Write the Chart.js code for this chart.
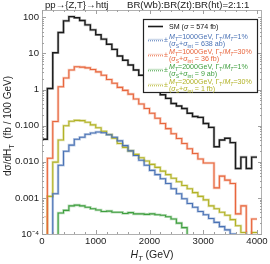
<!DOCTYPE html>
<html><head><meta charset="utf-8">
<script src="https://cdn.jsdelivr.net/npm/chart.js@4.4.1/dist/chart.umd.min.js"></script>
<style>html,body{margin:0;padding:0;background:#fff;}#wrap{width:270px;height:264px;position:relative;}</style>
</head><body><div id="wrap"><canvas id="c" width="270" height="264"></canvas></div>
<script>
// ---- data (fb / 100 GeV), bins of 100 GeV starting at binStart ----
const binStart = [0,100,200,300,400,500,600,700,800,900,1000,1100,1200,1300,1400,1500,1600,1700,1800,1900,
                  2000,2100,2200,2300,2400,2500,2600,2700,2800,2900,3000,3100,3200,3300,3400,3500,3600,3700,3800,3900];
const binEnd = 4000;
const smVals = [0.042,1.07,10.5,38,80,105,98,82,62,45,33,25,18,13,8.5,6.5,4.8,3.5,2.5,1.7,
                1.2,0.9,0.72,0.57,0.41,0.35,0.30,0.22,0.18,0.17,0.115,0.09,0.026,0.04,0.045,0.034,0.0065,0.0135,0.0065,0.0135];
const m1000w1 = [1e-6,1e-6,0.0013,0.008,0.0195,0.029,0.042,0.048,0.058,0.063,0.067,0.064,0.056,0.048,0.038,0.028,0.02,0.015,0.011,0.008,
                 0.0058,0.0044,0.0034,0.0025,0.0018,0.0013,0.00095,0.0007,0.00055,0.00042,0.00034,0.00027,0.00021,0.00016,0.00013,0.0001,0.00008,0.00006,0.00005,0.00005];
const m1000w30 = [1e-6,0.0125,0.13,1.2,2.1,3.5,4.3,4.2,4.0,3.6,3.1,2.5,1.9,1.5,1.15,0.95,0.75,0.55,0.4,0.3,
                  0.22,0.16,0.115,0.083,0.06,0.044,0.032,0.023,0.017,0.012,0.0093,0.0093,0.0019,0.004,0.0031,0.0025,0.00036,0.0006,0.00005,0.00026];
const m1000w30Neg = [0.0003]; // |negative| value of first bin, drawn dotted
const m2000w1 = [1e-6,1e-6,1e-6,0.00038,0.00045,0.0006,0.00063,0.0006,0.00055,0.0005,0.00046,0.00042,0.00043,0.0004,0.0004,0.00037,0.00039,0.00036,0.00036,0.00035,
                 0.00036,0.00034,0.00033,0.0003,0.00026,0.0002,0.00015,0.00008,0.00005,0.00005,0.00005,0.00005,0.00005,0.00005,0.00005,0.00005,0.00005,0.00005,0.00005,0.00005];
const m2000w30 = [1e-6,0.0011,0.0098,0.04,0.1,0.133,0.14,0.138,0.125,0.105,0.088,0.07,0.057,0.045,0.032,0.025,0.02,0.016,0.013,0.0105,
                  0.0085,0.007,0.0055,0.0044,0.0035,0.0028,0.0022,0.0018,0.0014,0.0011,0.00088,0.0006,0.0005,0.0004,0.00033,0.00025,0.00017,0.00011,0.00005,0.00011];
const xTickVals = [0,1000,2000,3000,4000];
const xMinorVals = [200,400,600,800,1200,1400,1600,1800,2200,2400,2600,2800,3200,3400,3600,3800];
const yTickVals = [0.0001,0.001,0.01,0.1,1,10,100];
const yTickLabels = ['10\u207B\u2074','0.001','0.010','0.100','1','10','100'];
const xMax = 4093, yMin = 0.0001, yMax = 160;

const C = {sm:'#1a1a1a', blue:'#4a72b5', orange:'#e8663d', green:'#3f9f3f', olive:'#b2b226'};
const HALO = {sm:'rgba(0,0,0,0.25)', blue:'rgba(74,114,181,0.35)', orange:'rgba(232,102,61,0.35)', green:'rgba(63,159,63,0.35)', olive:'rgba(178,178,38,0.35)'};
const FONT = '"Liberation Sans", Arial, sans-serif';

function steps(vals){ const p = binStart.map((x,i)=>({x:x, y:vals[i]})); p.push({x:binEnd, y:vals[vals.length-1]}); return p; }
function line(vals, col, w, order, dash){ return {data:steps(vals), borderColor:col, borderWidth:w, pointRadius:0, stepped:'before', fill:false, order:order, borderDash:dash||[], tension:0}; }

const datasets = [
  line(smVals, C.sm, 1.4, 0),
  line(m1000w1, C.blue, 1.1, 1),
  line(m1000w30, C.orange, 1.1, 1),
  line(m2000w1, C.green, 1.1, 1),
  line(m2000w30, C.olive, 1.1, 1),
  {data:[{x:binStart[0],y:m1000w30Neg[0]},{x:binStart[1],y:m1000w30Neg[0]}], borderColor:C.orange, borderWidth:1, pointRadius:0, borderDash:[1,1.5], order:1},
  line(smVals, HALO.sm, 2.6, 5),
  line(m1000w1, HALO.blue, 2.6, 5),
  line(m1000w30, HALO.orange, 2.6, 5),
  line(m2000w1, HALO.green, 2.6, 5),
  line(m2000w30, HALO.olive, 2.6, 5)
];

function drawRich(ctx, x, y, segs, size, color){
  ctx.fillStyle = color; ctx.textBaseline = 'alphabetic'; ctx.textAlign='left';
  let cx = x;
  for (const [t, st] of segs){
    const it = st.indexOf('i')>=0, sub = st.indexOf('s')>=0;
    const fs = sub ? size*0.72 : size;
    ctx.font = (it?'italic ':'') + fs + 'px ' + FONT;
    ctx.fillText(t, cx, y + (sub ? size*0.28 : 0));
    cx += ctx.measureText(t).width;
  }
  return cx - x;
}
function richWidth(ctx, segs, size){
  let w=0; for (const [t,st] of segs){ const it=st.indexOf('i')>=0, sub=st.indexOf('s')>=0; ctx.font=(it?'italic ':'')+(sub?size*0.72:size)+'px '+FONT; w+=ctx.measureText(t).width; } return w;
}

const legendEntries = [
  {col:C.blue, halo:HALO.blue, l1:[['M','i'],['T','is'],['=1000GeV, \u0393','n'],['T','s'],['/','n'],['M','i'],['T','is'],['=1%','n']], l2:[['(','n'],['\u03C3','i'],['S','s'],['+','n'],['\u03C3','i'],['int','s'],[' = 638 ab)','n']]},
  {col:C.orange, halo:HALO.orange, l1:[['M','i'],['T','is'],['=1000GeV, \u0393','n'],['T','s'],['/','n'],['M','i'],['T','is'],['=30%','n']], l2:[['(','n'],['\u03C3','i'],['S','s'],['+','n'],['\u03C3','i'],['int','s'],[' = 36 fb)','n']]},
  {col:C.green, halo:HALO.green, l1:[['M','i'],['T','is'],['=2000GeV, \u0393','n'],['T','s'],['/','n'],['M','i'],['T','is'],['=1%','n']], l2:[['(','n'],['\u03C3','i'],['S','s'],['+','n'],['\u03C3','i'],['int','s'],[' = 9 ab)','n']]},
  {col:C.olive, halo:HALO.olive, l1:[['M','i'],['T','is'],['=2000GeV, \u0393','n'],['T','s'],['/','n'],['M','i'],['T','is'],['=30%','n']], l2:[['(','n'],['\u03C3','i'],['S','s'],['+','n'],['\u03C3','i'],['int','s'],[' = 1 fb)','n']]}
];

const LF = 7.1; // legend font size
const deco = {
  id:'deco',
  afterDraw(chart){
    const ctx = chart.ctx, a = chart.chartArea, xs = chart.scales.x, ys = chart.scales.y;
    ctx.save();
    // frame
    ctx.strokeStyle = '#b0b0b0'; ctx.lineWidth = 1;
    ctx.strokeRect(Math.round(a.left)+0.5, Math.round(a.top)+0.5, Math.round(a.right-a.left)-1, Math.round(a.bottom-a.top));
    // ticks (inward, all sides)
    ctx.strokeStyle = '#a0a0a0'; ctx.beginPath();
    const tx = (v,len)=>{ const p=Math.round(xs.getPixelForValue(v))+0.5; ctx.moveTo(p,a.bottom); ctx.lineTo(p,a.bottom-len); ctx.moveTo(p,a.top); ctx.lineTo(p,a.top+len); };
    const ty = (v,len)=>{ const p=Math.round(ys.getPixelForValue(v))+0.5; if(p<a.top||p>a.bottom+1) return; ctx.moveTo(a.left,p); ctx.lineTo(a.left+len,p); ctx.moveTo(a.right,p); ctx.lineTo(a.right-len,p); };
    xTickVals.forEach(v=>tx(v,4)); xMinorVals.forEach(v=>tx(v,2));
    yTickVals.forEach(v=>ty(v,4));
    for (let k=0;k<yTickVals.length;k++){ for (let m=2;m<=9;m++){ ty(yTickVals[k]*m,2); } }
    ctx.stroke();
    // title
    ctx.fillStyle='#222'; ctx.font='9.6px '+FONT; ctx.textBaseline='middle'; ctx.textAlign='left';
    ctx.fillText('pp\u2192{Z,T}\u2192httj', 45, 5.5);
    ctx.fillText('BR(Wb):BR(Zt):BR(ht)=2:1:1', 127, 5.5);
    // x title
    const xt=[['H','i'],['T','is'],[' (GeV)','n']];
    const xw = richWidth(ctx,xt,10.5);
    drawRich(ctx, (a.left+a.right)/2 - xw/2, 258, xt, 10.5, '#222');
    // y title (rotated)
    const yt=[['d\u03C3/dH','n'],['T','s'],['  (fb / 100 GeV)','n']];
    const yw = richWidth(ctx,yt,10);
    ctx.save(); ctx.translate(11, 126); ctx.rotate(-Math.PI/2);
    drawRich(ctx, -yw/2, 0, yt, 10, '#222');
    ctx.restore();
    // legend
    const L={x:143,y:19,w:114,h:73};
    ctx.fillStyle='#fff'; ctx.fillRect(L.x,L.y,L.w,L.h);
    ctx.strokeStyle='#222'; ctx.lineWidth=1.2; ctx.strokeRect(L.x+0.5,L.y+0.5,L.w,L.h);
    ctx.lineWidth=1.6; ctx.strokeStyle=C.sm; ctx.beginPath(); ctx.moveTo(148,26.5); ctx.lineTo(163,26.5); ctx.stroke();
    drawRich(ctx, 169, 26.5+LF*0.36, [['SM (','n'],['\u03C3','i'],[' = 574 fb)','n']], LF, '#111');
    legendEntries.forEach((e,k)=>{
      const c1 = 36.6 + 15*k, c2 = c1 + 6.6;
      const mid = (c1+c2)/2;
      ctx.lineWidth=1; ctx.strokeStyle=e.halo; ctx.setLineDash([]); ctx.beginPath(); ctx.moveTo(148,mid-0.6); ctx.lineTo(163,mid-0.6); ctx.stroke();
      ctx.strokeStyle=e.col; ctx.setLineDash([1,1]); ctx.beginPath(); ctx.moveTo(148,mid+0.9); ctx.lineTo(163,mid+0.9); ctx.stroke();
      ctx.setLineDash([]);
      ctx.fillStyle=e.col; ctx.font=LF+'px '+FONT; ctx.textBaseline='middle'; ctx.fillText('\u00B1',164,mid);
      drawRich(ctx, 169, c1+LF*0.36, e.l1, LF, e.col);
      drawRich(ctx, 169, c2+LF*0.36, e.l2, LF, e.col);
    });
    ctx.restore();
  }
};

new Chart(document.getElementById('c'), {
  type:'line',
  data:{datasets:datasets},
  options:{
    responsive:false, animation:false, devicePixelRatio:1,
    layout:{padding:{top:10,right:8,left:0,bottom:0}},
    plugins:{legend:{display:false}, tooltip:{enabled:false}, title:{display:false}},
    scales:{
      x:{type:'linear', min:0, max:xMax,
         afterBuildTicks:s=>{ s.ticks = xTickVals.map(v=>({value:v})); },
         afterFit:s=>{ s.height = 30; },
         ticks:{autoSkip:false, maxRotation:0, padding:2, color:'#222', font:{family:FONT,size:9.6}, callback:v=>String(v)},
         grid:{display:false, drawTicks:false}, border:{display:false}},
      y:{type:'logarithmic', min:yMin, max:yMax,
         afterBuildTicks:s=>{ s.ticks = yTickVals.map(v=>({value:v})); },
         afterFit:s=>{ s.width = 42; },
         ticks:{autoSkip:false, padding:3, color:'#222', font:{family:FONT,size:9.6}, callback:v=>{ const i=yTickVals.indexOf(v); return i>=0?yTickLabels[i]:''; }},
         grid:{display:false, drawTicks:false}, border:{display:false}}
    }
  },
  plugins:[deco]
});
</script></body></html>
